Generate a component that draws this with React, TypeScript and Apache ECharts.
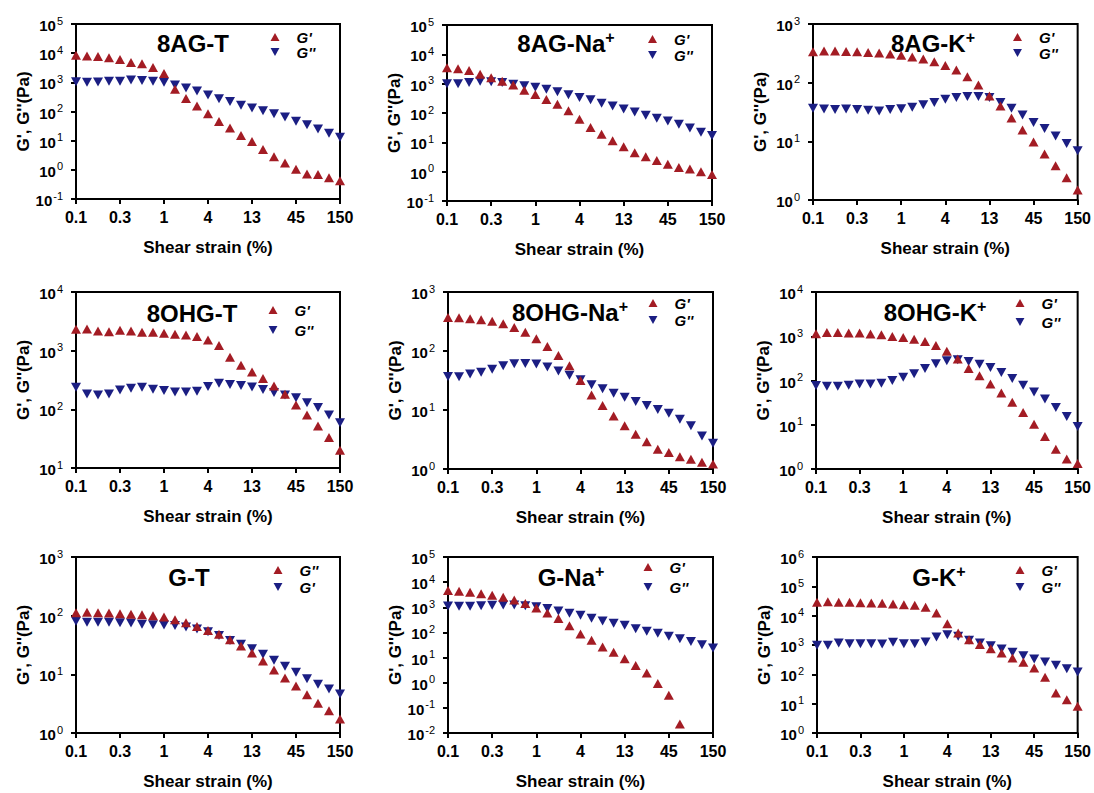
import React, { useEffect, useRef } from "react";
import * as echarts from "echarts";

// ---- data (25 strain points, evenly spaced on the axis, labelled every 4th) ----
const strainTicks = ["0.1", "0.3", "1", "4", "13", "45", "150"];

const agT_Gp = [8500, 8000, 7700, 7000, 6100, 4800, 4300, 3200, 2000, 575, 280, 155, 83, 45, 27, 15, 9.3, 5.0, 2.8, 1.7, 1.05, 0.72, 0.69, 0.54, 0.42];
const agT_Gpp = [1050, 1000, 1020, 1080, 1080, 1200, 1150, 1080, 1000, 810, 640, 500, 370, 275, 222, 163, 132, 107, 83, 65, 46, 35, 25, 18, 13];

const agNa_Gp = [3500, 3200, 2800, 2100, 1600, 1200, 900, 600, 430, 290, 200, 120, 61, 32, 19, 11.4, 7.1, 4.4, 3.2, 2.4, 1.8, 1.4, 1.24, 1.0, 0.8];
const agNa_Gpp = [1000, 1000, 1100, 1200, 1170, 1100, 960, 850, 750, 640, 535, 420, 340, 285, 213, 173, 137, 108, 83, 66, 53, 41, 31, 22, 17];

const agK_Gp = [338, 345, 345, 340, 338, 328, 320, 307, 292, 274, 253, 228, 197, 164, 126, 91, 59, 40, 25, 15.6, 9.7, 6.1, 3.85, 2.4, 1.48];
const agK_Gpp = [36.5, 35.6, 35, 35.6, 35, 34, 33, 35, 36, 38, 42, 46, 52, 56, 58, 58, 56, 46, 36.5, 28, 21, 16.5, 12.3, 9.2, 6.9];

const ohT_Gp = [2320, 2350, 2170, 2100, 2230, 2170, 2060, 2060, 1980, 1900, 1850, 1740, 1520, 1230, 770, 565, 435, 335, 250, 180, 118, 80, 52, 33, 20];
const ohT_Gpp = [238, 183, 176, 183, 214, 229, 238, 220, 209, 198, 198, 203, 244, 279, 264, 254, 241, 217, 193, 176, 158, 130, 107, 80, 59];

const ohNa_Gp = [371, 366, 352, 339, 318, 290, 251, 207, 161, 119, 84, 56, 31.6, 18, 11.9, 7.9, 5.4, 3.9, 2.9, 2.16, 1.9, 1.62, 1.46, 1.3, 1.22];
const ohNa_Gpp = [37, 36.5, 40.8, 43.8, 49, 56, 60.7, 61.5, 60, 53.5, 45.7, 39, 32.5, 26.8, 22.9, 19.3, 16.5, 13.9, 11.9, 10.2, 8.8, 7.0, 5.4, 3.64, 2.73];

const ohK_Gp = [1140, 1220, 1220, 1180, 1180, 1120, 1080, 990, 940, 860, 760, 620, 460, 305, 187, 128, 83, 52, 32.4, 18.8, 10.3, 5.4, 2.8, 1.68, 1.34];
const ohK_Gpp = [77, 74.5, 74.5, 78, 83, 83, 87, 100, 119, 142, 187, 238, 279, 294, 270, 234, 197, 152, 111, 78, 55, 38.4, 24.6, 15.3, 9.1];

const gT_red = [112, 114, 112, 111, 108, 106, 104, 100, 94.5, 85, 76, 65.5, 56, 48, 38.8, 30.4, 23, 16.8, 11.9, 8.7, 6.3, 4.5, 3.2, 2.4, 1.73];
const gT_blue = [80.7, 77.5, 77.5, 77.5, 75.5, 74.7, 71.7, 70, 69, 68, 63.8, 59, 53, 46, 37.8, 32.7, 27.2, 22, 17.4, 13.8, 10.9, 8.4, 6.8, 5.6, 4.6];

const gNa_Gp = [4600, 4300, 3940, 3480, 3000, 2500, 1960, 1400, 940, 595, 355, 186, 87, 48.6, 26.5, 16.2, 9.0, 4.8, 2.43, 0.94, 0.32, 0.023];
const gNa_Gpp = [1130, 1100, 1100, 1160, 1200, 1235, 1235, 1160, 1060, 885, 715, 575, 480, 365, 285, 230, 192, 141, 111, 92, 70, 56.6, 44, 32.6, 24];

const gK_Gp = [28500, 30000, 28500, 28500, 27700, 27000, 26400, 25000, 23700, 22500, 19200, 12300, 5300, 2570, 1520, 1030, 750, 533, 360, 257, 164, 79, 23, 13.7, 8.1];
const gK_Gpp = [975, 975, 1170, 1110, 1110, 1110, 1080, 1230, 1110, 1110, 1270, 1870, 2250, 1970, 1440, 1170, 950, 730, 563, 433, 333, 263, 203, 156, 120];

const RED = "#A31C24";
const BLUE = "#1B1E83";
const FONT = "'Liberation Sans', Arial, Helvetica, sans-serif";
const DOWN_TRI = "path://M0,0L10,0L5,9Z";

type Panel = {
  title: string;
  sup: boolean;
  red: number[];
  blue: number[];
  redName: string;
  blueName: string;
  yMin: number;
  yMax: number;
  rect: [number, number, number, number];
  titlePos: [number, number];
  legendPos: [number, number];
  legendGap: number;
};

const panels: Panel[] = [
  { title: "8AG-T", sup: false, red: agT_Gp, blue: agT_Gpp, redName: "G'", blueName: "G''", yMin: -1, yMax: 5, rect: [76, 24, 264, 175], titlePos: [193, 43], legendPos: [270.5, 29.5], legendGap: 0 },
  { title: "8AG-Na", sup: true, red: agNa_Gp, blue: agNa_Gpp, redName: "G'", blueName: "G''", yMin: -1, yMax: 5, rect: [447, 25, 265, 176], titlePos: [566, 43], legendPos: [648, 31.5], legendGap: 1 },
  { title: "8AG-K", sup: true, red: agK_Gp, blue: agK_Gpp, redName: "G'", blueName: "G''", yMin: 0, yMax: 3, rect: [813, 24, 265, 176], titlePos: [933, 43], legendPos: [1013, 29.5], legendGap: 1 },
  { title: "8OHG-T", sup: false, red: ohT_Gp, blue: ohT_Gpp, redName: "G'", blueName: "G''", yMin: 1, yMax: 4, rect: [76, 292, 264, 176], titlePos: [192, 313], legendPos: [268.5, 302.5], legendGap: 5 },
  { title: "8OHG-Na", sup: true, red: ohNa_Gp, blue: ohNa_Gpp, redName: "G'", blueName: "G''", yMin: 0, yMax: 3, rect: [448, 292, 265, 177], titlePos: [570, 312], legendPos: [648.5, 295.5], legendGap: 2 },
  { title: "8OHG-K", sup: true, red: ohK_Gp, blue: ohK_Gpp, redName: "G'", blueName: "G''", yMin: 0, yMax: 4, rect: [816, 292, 265, 177], titlePos: [935, 312], legendPos: [1015.5, 295.5], legendGap: 4 },
  { title: "G-T", sup: false, red: gT_red, blue: gT_blue, redName: "G''", blueName: "G'", yMin: 0, yMax: 3, rect: [76, 557, 264, 176], titlePos: [189, 577], legendPos: [273.5, 562.5], legendGap: 2 },
  { title: "G-Na", sup: true, red: gNa_Gp, blue: gNa_Gpp, redName: "G'", blueName: "G''", yMin: -2, yMax: 5, rect: [448, 557, 265, 176], titlePos: [571, 577], legendPos: [643.5, 559.5], legendGap: 5 },
  { title: "G-K", sup: true, red: gK_Gp, blue: gK_Gpp, redName: "G'", blueName: "G''", yMin: 0, yMax: 6, rect: [817, 557, 264, 176], titlePos: [939, 577], legendPos: [1015.5, 562.5], legendGap: 2 },
];

function buildOption() {
  const grid: any[] = [];
  const xAxis: any[] = [];
  const yAxis: any[] = [];
  const series: any[] = [];
  const legend: any[] = [];
  const graphic: any[] = [];

  panels.forEach((p, k) => {
    const [l, t, w, h] = p.rect;
    grid.push({
      left: l, top: t, width: w, height: h,
      show: true, borderColor: "#000", borderWidth: 2, backgroundColor: "transparent",
    });
    xAxis.push({
      gridIndex: k, type: "value", min: 0, max: 24, interval: 4,
      axisLine: { show: true, lineStyle: { color: "#000", width: 2 } },
      axisTick: { show: true, length: 5, lineStyle: { color: "#000", width: 2 } },
      splitLine: { show: false },
      axisLabel: {
        margin: 10, color: "#000", fontFamily: FONT, fontSize: 16, fontWeight: "bold",
        formatter: (v: number) => strainTicks[Math.round(v / 4)] ?? "",
      },
      name: "Shear strain (%)", nameLocation: "middle", nameGap: 40,
      nameTextStyle: { color: "#000", fontFamily: FONT, fontSize: 17, fontWeight: "bold" },
    });
    yAxis.push({
      gridIndex: k, type: "log", logBase: 10,
      min: Math.pow(10, p.yMin), max: Math.pow(10, p.yMax),
      splitNumber: p.yMax - p.yMin,
      axisLine: { show: true, lineStyle: { color: "#000", width: 2 } },
      axisTick: { show: true, length: 5, lineStyle: { color: "#000", width: 2 } },
      minorTick: { show: false },
      splitLine: { show: false },
      axisLabel: {
        margin: 13, color: "#000",
        formatter: (v: number) => `{b|10}{s|${Math.round(Math.log10(v))}}`,
        rich: {
          b: { fontFamily: FONT, fontSize: 15, fontWeight: "bold", color: "#000", lineHeight: 18, verticalAlign: "bottom" },
          s: { fontFamily: FONT, fontSize: 11, color: "#000", lineHeight: 10, verticalAlign: "top", padding: [0, 0, 0, 1] },
        },
      },
      name: "G', G''(Pa)", nameLocation: "middle", nameGap: 44,
      nameTextStyle: { color: "#000", fontFamily: FONT, fontSize: 17, fontWeight: "bold" },
    });
    const rn = `p${k}|${p.redName}`;
    const bn = `p${k}|${p.blueName}`;
    series.push({
      type: "scatter", name: bn, xAxisIndex: k, yAxisIndex: k,
      symbol: DOWN_TRI, symbolSize: [10, 9],
      itemStyle: { color: BLUE, opacity: 1 },
      data: p.blue.map((v, i) => [i, v]),
    });
    series.push({
      type: "scatter", name: rn, xAxisIndex: k, yAxisIndex: k,
      symbol: "triangle", symbolSize: [10, 9],
      itemStyle: { color: RED, opacity: 1 },
      data: p.red.map((v, i) => [i, v]),
    });
    legend.push({
      data: [rn, bn], orient: "vertical", padding: 0,
      left: p.legendPos[0], top: p.legendPos[1],
      itemWidth: 9, itemHeight: 8, itemGap: p.legendGap, selectedMode: false,
      formatter: (name: string) => name.split("|")[1],
      textStyle: {
        fontFamily: FONT, fontSize: 15, fontWeight: "bold", fontStyle: "italic", color: "#000",
        lineHeight: 15, padding: [0, 0, 0, 12],
      },
    });
    graphic.push({
      type: "text", x: p.titlePos[0], y: p.titlePos[1], z: 10,
      style: {
        text: p.sup ? `{t|${p.title}}{s|+}` : `{t|${p.title}}`,
        align: "center", verticalAlign: "middle",
        rich: {
          t: { fontFamily: FONT, fontSize: 24, fontWeight: "bold", fill: "#000", lineHeight: 28 },
          s: { fontFamily: FONT, fontSize: 16, fontWeight: "bold", fill: "#000", lineHeight: 14, verticalAlign: "top" },
        },
      },
    });
  });

  return {
    animation: false,
    backgroundColor: "#fff",
    grid, xAxis, yAxis, series, legend, graphic,
  };
}

export default function App() {
  const ref = useRef<HTMLDivElement>(null);
  useEffect(() => {
    if (!ref.current) return;
    const chart = echarts.init(ref.current, undefined, { renderer: "svg" });
    chart.setOption(buildOption() as any);
    return () => chart.dispose();
  }, []);
  return (
    <div
      ref={ref}
      style={{ position: "absolute", left: 0, top: 0, width: 1094, height: 793, background: "#fff" }}
    />
  );
}
